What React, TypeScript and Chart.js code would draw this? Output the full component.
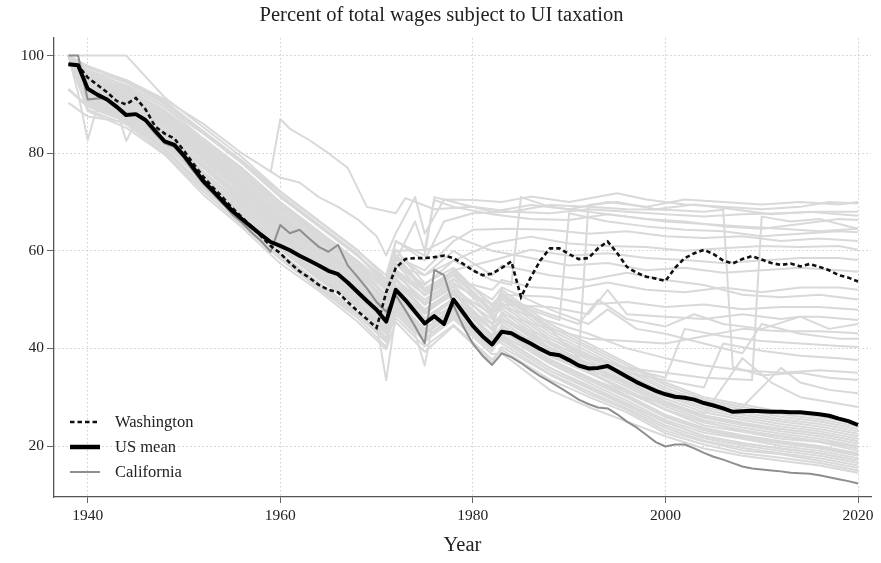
import React, { useEffect, useRef } from 'react';
import { Chart, registerables } from 'chart.js';

Chart.register(...registerables);

// ---------- highlighted series (yearly) ----------
const years = [
  1938, 1939, 1940, 1941, 1942, 1943, 1944, 1945, 1946, 1947, 1948, 1949, 1950, 1951, 1952, 1953, 1954, 1955, 1956, 1957,
  1958, 1959, 1960, 1961, 1962, 1963, 1964, 1965, 1966, 1967, 1968, 1969, 1970, 1971, 1972, 1973, 1974, 1975, 1976, 1977,
  1978, 1979, 1980, 1981, 1982, 1983, 1984, 1985, 1986, 1987, 1988, 1989, 1990, 1991, 1992, 1993, 1994, 1995, 1996, 1997,
  1998, 1999, 2000, 2001, 2002, 2003, 2004, 2005, 2006, 2007, 2008, 2009, 2010, 2011, 2012, 2013, 2014, 2015, 2016, 2017,
  2018, 2019, 2020,
];

const usMean = [
  98.2, 98.0, 93.2, 92.0, 91.0, 89.5, 87.8, 88.0, 86.8, 84.6, 82.4, 81.7, 79.5, 76.9, 74.3, 72.3, 70.2, 68.2, 66.5, 64.9,
  63.3, 61.8, 61.0, 60.1, 59.0, 58.0, 57.0, 55.9, 55.2, 53.5, 51.6, 49.7, 47.9, 45.5, 52.0, 49.9, 47.5, 45.1, 46.6, 45.0,
  50.0, 47.3, 44.6, 42.5, 40.8, 43.4, 43.1, 42.0, 41.0, 39.9, 38.9, 38.6, 37.6, 36.5, 35.9, 36.0, 36.4, 35.3, 34.2, 33.1,
  32.2, 31.3, 30.6, 30.1, 29.9, 29.5, 28.8, 28.3, 27.7, 27.0, 27.1, 27.2, 27.1, 27.0, 27.0, 26.9, 26.9, 26.7, 26.5, 26.2,
  25.6, 25.1, 24.3,
];

const washington = [
  98.2, 98.0, 95.5, 94.0, 92.5, 90.7, 90.0, 91.3, 89.0, 85.5, 84.0, 83.0, 80.5, 77.8, 75.2, 73.0, 71.0, 68.8, 66.9, 65.0,
  63.0, 61.0, 59.5, 57.5, 55.8, 54.5, 53.0, 52.0, 51.5, 49.5, 47.7, 46.0, 44.2, 51.5, 56.5, 58.3, 58.5, 58.5, 58.7, 59.0,
  58.5, 57.3, 56.0, 55.0, 55.3, 56.5, 57.8, 50.5, 54.5, 58.0, 60.5, 60.5, 59.3, 58.3, 58.5, 60.5, 61.9, 59.5, 56.7, 55.5,
  54.7, 54.3, 53.8, 56.5, 58.5, 59.5, 60.2, 59.3, 58.0, 57.4, 58.3, 58.9, 58.2, 57.5, 57.1, 57.4, 56.8, 57.3, 56.7, 56.0,
  55.0, 54.5, 53.7,
];

const california = [
  100, 100, 91.0, 91.2, 91.3, 89.8, 87.9, 87.9, 86.5, 84.0, 82.0, 81.3, 79.0, 76.2, 73.8, 71.8, 69.7, 67.5, 65.8, 63.8,
  62.0, 59.8, 65.3, 63.6, 64.3, 62.5, 60.8, 59.8, 61.2, 57.0, 54.7, 52.3, 49.5, 47.5, 50.9, 47.8, 44.5, 41.0, 56.1, 55.0,
  48.8, 44.5, 41.0, 38.5, 36.6, 39.0, 38.2, 37.0, 35.6, 34.3, 33.2, 32.0, 30.8, 29.5, 28.6, 27.9, 27.7, 26.5, 25.0, 23.8,
  22.3, 20.8, 19.9, 20.3, 20.3, 19.5, 18.6, 17.8, 17.2, 16.5, 15.8, 15.4, 15.2, 15.0, 14.8, 14.5, 14.4, 14.3, 14.0, 13.6,
  13.2, 12.8, 12.3,
];

// ---------- other states (grey), read at selected years ----------
const bandYears = [1938, 1940, 1944, 1948, 1952, 1956, 1960, 1964, 1968, 1971, 1972, 1975, 1978, 1982, 1983, 1988, 1992, 1996, 2000, 2004, 2008, 2012, 2016, 2020];

const stateA = [100, 88.6, 85.2, 79.7, 71.5, 64.8, 57.4, 51.8, 45.5, 39.8, 45.4, 39.3, 44.6, 37.1, 40.3, 34.6, 30.7, 27.4, 23.1, 20.9, 19.1, 18.3, 17.0, 15.5];
const stateB = [90.3, 87.5, 86.3, 80.6, 72.8, 65.9, 58.9, 52.5, 46.9, 41.3, 49.0, 42.8, 47.2, 39.9, 44.9, 38.4, 35.2, 31.0, 27.4, 24.2, 22.9, 21.5, 20.8, 19.0];
const stateC = [100, 90.2, 87.2, 81.6, 74.3, 67.2, 60.2, 54.2, 48.6, 42.2, 46.2, 40.4, 44.8, 37.7, 39.7, 33.6, 30.1, 26.9, 22.6, 20.3, 18.5, 17.6, 16.5, 15.0];
const stateD = [100, 91.1, 88.1, 82.6, 75.2, 68.0, 61.5, 55.5, 49.5, 43.5, 49.2, 42.9, 47.4, 40.1, 42.9, 36.9, 33.0, 29.3, 25.3, 22.7, 21.5, 20.0, 19.0, 17.5];
const stateE = [100, 91.9, 88.9, 83.6, 76.3, 69.6, 62.6, 56.6, 50.6, 44.6, 52.6, 46.2, 50.2, 42.7, 46.8, 40.2, 36.4, 32.6, 28.6, 25.8, 24.3, 23.0, 22.0, 20.5];
const stateF = [100, 92.6, 89.6, 84.5, 77.3, 70.7, 63.7, 57.7, 51.7, 45.7, 49.6, 43.3, 47.7, 40.3, 41.6, 35.4, 31.8, 28.2, 24.2, 21.6, 20.1, 19.0, 18.0, 16.5];
const stateG = [100, 93.5, 90.5, 85.5, 78.5, 72.0, 65.0, 59.0, 53.0, 47.0, 55.7, 49.0, 52.8, 45.1, 49.4, 42.6, 38.7, 34.8, 30.8, 27.9, 26.4, 25.0, 24.0, 22.5];
const stateH = [100, 94.4, 91.4, 86.5, 79.7, 73.3, 66.3, 60.3, 54.3, 48.3, 52.6, 46.2, 50.2, 42.7, 43.9, 37.6, 33.9, 30.2, 26.2, 23.5, 22.0, 20.8, 19.8, 18.3];
const stateI = [100, 95.2, 92.2, 87.5, 80.8, 74.4, 67.4, 61.4, 55.4, 49.4, 58.4, 51.6, 55.0, 47.2, 51.4, 44.4, 40.4, 36.5, 32.5, 29.5, 28.0, 26.5, 25.5, 24.0];
const stateJ = [100, 95.9, 92.9, 88.4, 81.8, 75.5, 68.5, 62.5, 56.5, 50.5, 55.5, 48.9, 52.6, 45.0, 46.2, 39.6, 35.8, 32.1, 28.1, 25.3, 23.8, 22.5, 21.5, 20.0];
const stateK = [100, 96.8, 93.8, 89.4, 83.0, 76.8, 69.8, 63.8, 57.8, 51.8, 57.5, 50.8, 54.3, 46.5, 48.1, 41.4, 37.6, 33.7, 29.7, 26.9, 25.4, 24.0, 23.0, 21.5];
const stateL = [100, 97.7, 94.7, 90.4, 84.2, 78.1, 71.1, 65.1, 59.1, 53.1, 54.1, 47.5, 51.4, 43.8, 42.3, 36.0, 32.4, 28.8, 24.8, 22.1, 20.6, 19.5, 18.5, 17.0];
const stateM = [100, 100, 100, 91.4, 85.3, 79.2, 72.2, 66.2, 60.2, 54.2, 60.2, 53.3, 56.5, 48.6, 50.1, 43.2, 39.3, 35.4, 31.4, 28.4, 26.9, 25.5, 24.5, 23.0];
const stateN = [93.2, 89.7, 86.7, 81.0, 73.3, 66.4, 59.4, 53.4, 47.4, 41.4, 51.2, 44.8, 49.0, 41.6, 47.5, 40.8, 37.0, 33.2, 29.2, 26.3, 24.8, 23.5, 22.5, 21.0];
const stateO = [100, 92.4, 89.4, 84.2, 77.0, 70.4, 63.4, 57.4, 51.4, 45.4, 47.6, 41.4, 46.0, 38.8, 39.0, 31.5, 28.0, 25.0, 22.0, 19.5, 18.0, 17.0, 16.0, 14.5];
const stateP = [100, 94.6, 91.6, 86.8, 80.0, 73.6, 66.6, 60.6, 54.6, 48.6, 53.9, 47.4, 51.3, 43.7, 45.5, 39.0, 35.3, 31.5, 27.5, 24.8, 23.3, 22.0, 21.0, 19.5];
const stateQ = [100, 96.3, 93.3, 88.8, 82.3, 76.0, 69.0, 63.0, 57.0, 51.0, 52.1, 45.7, 49.8, 42.3, 41.0, 34.8, 31.2, 27.7, 23.7, 21.1, 19.6, 18.5, 17.5, 16.0];
const stateR = [100, 97.9, 94.9, 90.7, 84.5, 78.4, 71.4, 65.4, 59.4, 53.4, 58.9, 52.1, 55.5, 47.6, 48.8, 42.0, 38.1, 34.3, 30.3, 27.4, 25.9, 24.5, 23.5, 22.0];
const stateS = [100, 90.8, 87.8, 82.3, 74.8, 68.0, 61.0, 55.0, 49.0, 43.0, 54.4, 47.9, 51.7, 44.1, 50.7, 43.8, 39.9, 35.9, 31.9, 29.0, 27.5, 26.0, 25.0, 23.5];
const stateT = [100, 94.1, 91.1, 86.2, 79.3, 72.8, 65.8, 59.8, 53.8, 47.8, 52.1, 45.7, 49.8, 42.3, 43.6, 37.2, 33.5, 29.9, 25.9, 23.2, 21.7, 20.5, 19.5, 18.0];
const stateU = [100, 88.9, 85.9, 80.0, 72.2, 65.3, 58.3, 52.3, 46.3, 40.3, 48.3, 42.1, 46.6, 39.4, 44.2, 37.8, 34.1, 30.4, 26.4, 23.7, 22.2, 21.0, 20.0, 18.5];
const stateV = [100, 95.5, 92.5, 87.8, 81.2, 74.9, 67.9, 61.9, 55.9, 49.9, 59.1, 52.3, 55.6, 47.8, 52.0, 45.0, 41.0, 37.0, 33.0, 30.0, 28.5, 27.0, 26.0, 24.5];

// states read as [year, value] pairs (irregular paths)
const stateU1 = [[1938, 100], [1940, 97.5], [1944, 95], [1948, 91], [1952, 86], [1956, 80], [1960, 75], [1962, 74], [1964, 71], [1966, 69], [1968, 66.5], [1970, 63], [1971, 59], [1972, 63.6], [1974, 71], [1975, 63.5], [1977, 70.5], [1980, 70.4], [1983, 70], [1986, 71.1], [1990, 70], [1995, 71.8], [1998, 70.5], [2002, 69.5], [2006, 69], [2010, 68.5], [2014, 69], [2017, 70], [2020, 69.7]];
const stateU2 = [[1959, 76], [1960, 87], [1961, 85], [1963, 82.7], [1965, 80], [1967, 77], [1969, 69], [1972, 67.7], [1973, 70.8], [1976, 68.5], [1980, 69], [1984, 68], [1988, 67.7], [1992, 68.5], [1996, 68], [2000, 67.5], [2004, 67], [2008, 67.5], [2012, 67.7], [2016, 68], [2020, 68]];
const stateU3 = [[1938, 100], [1940, 96.5], [1944, 94], [1948, 89.5], [1952, 84], [1956, 78], [1960, 71], [1964, 65], [1968, 59], [1971, 54], [1972, 60], [1975, 60.2], [1976, 70.4], [1978, 69], [1982, 67.5], [1986, 66.5], [1990, 66.3], [1994, 67.5], [1998, 66.5], [2002, 66], [2006, 65], [2010, 64.5], [2014, 65.5], [2018, 66.5], [2020, 66.3]];
const stateU4 = [[1938, 100], [1940, 95.5], [1944, 93], [1948, 88], [1952, 82], [1956, 76], [1960, 69], [1964, 63], [1968, 57], [1971, 52], [1972, 58.8], [1975, 56], [1978, 62], [1980, 64.3], [1984, 64.5], [1988, 64.3], [1992, 63.5], [1996, 64], [2000, 63], [2004, 62.6], [2008, 63], [2012, 62], [2016, 62.5], [2020, 62]];
const stateU5 = [[1938, 100], [1940, 94.5], [1944, 92], [1948, 87], [1952, 81], [1956, 74], [1960, 67], [1964, 61], [1968, 55], [1971, 50], [1972, 57], [1975, 53], [1978, 58], [1982, 61.5], [1986, 62.9], [1990, 61.5], [1994, 61], [1998, 60.8], [2002, 60], [2006, 60.5], [2010, 61], [2014, 60.8], [2018, 61], [2020, 60.2]];
const stateU6 = [[1938, 100], [1940, 93.5], [1944, 91], [1948, 86], [1952, 80], [1956, 73], [1960, 66], [1964, 60], [1968, 54], [1971, 49], [1972, 56], [1975, 51], [1978, 56], [1982, 58], [1986, 60.2], [1990, 59], [1994, 59.5], [1998, 58.5], [2002, 58.1], [2006, 57.5], [2010, 58], [2014, 58.5], [2018, 58.5], [2020, 58.1]];
const stateU7 = [[1938, 100], [1940, 95], [1944, 92.5], [1948, 87], [1952, 80.5], [1956, 74], [1960, 67], [1964, 61], [1968, 55], [1971, 50], [1972, 56], [1975, 52], [1978, 56], [1982, 49], [1983, 51], [1988, 44], [1991, 38], [1992, 69.4], [1995, 70], [1999, 68.5], [2003, 69.5], [2007, 68.5], [2011, 67.5], [2015, 68], [2018, 67.5], [2020, 67.2]];
const stateU8 = [[1938, 100], [1940, 96], [1944, 93.5], [1948, 88.5], [1952, 83], [1956, 77], [1960, 70], [1964, 64], [1968, 58], [1971, 53], [1972, 62], [1975, 58], [1977, 66], [1980, 67.7], [1984, 68], [1988, 69.4], [1992, 69], [1996, 68.5], [2000, 68.4], [2004, 68], [2006, 68.4], [2007, 36.2], [2010, 34.5], [2014, 35], [2017, 34], [2020, 33.5]];
const stateU9 = [[1938, 100], [1940, 92], [1944, 89], [1948, 84], [1952, 77], [1956, 70], [1960, 63], [1964, 57], [1968, 51], [1971, 45], [1972, 51], [1975, 46], [1978, 50], [1982, 44], [1983, 46], [1988, 41], [1992, 38], [1996, 36], [2000, 35], [2004, 34], [2009, 33.5], [2010, 67], [2013, 66], [2016, 66.5], [2020, 64.5]];
const stateU10 = [[1938, 100], [1940, 93], [1944, 90], [1948, 85], [1952, 78], [1956, 71.5], [1960, 64.5], [1964, 58.5], [1968, 52.5], [1971, 47], [1972, 53], [1975, 48], [1978, 52], [1982, 47], [1983, 50], [1989, 45.8], [1990, 67.7], [1994, 66], [1998, 65], [2002, 64.3], [2006, 64], [2010, 63], [2014, 63.5], [2018, 64], [2020, 63.8]];
const stateM1 = [[1938, 100], [1940, 94], [1944, 91.5], [1948, 86.5], [1952, 80], [1956, 73.5], [1960, 66.5], [1964, 60.5], [1968, 54.5], [1971, 49], [1972, 55], [1975, 50], [1978, 54], [1982, 52], [1983, 54], [1986, 52.6], [1990, 52], [1994, 53.5], [1998, 52], [2002, 51.5], [2006, 52.5], [2010, 51.5], [2014, 52.5], [2018, 52.5], [2020, 52]];
const stateM2 = [[1938, 100], [1940, 93], [1944, 90.5], [1948, 85.5], [1952, 79], [1956, 72.5], [1960, 65.5], [1964, 59.5], [1968, 53.5], [1971, 48], [1972, 54], [1975, 49], [1978, 53], [1982, 49], [1983, 51], [1988, 50.6], [1992, 49], [1996, 49.5], [2000, 48.5], [2004, 49], [2008, 48], [2012, 48.5], [2016, 48.5], [2020, 47.9]];
const stateM3 = [[1938, 100], [1940, 92.5], [1944, 89.5], [1948, 84.5], [1952, 77.5], [1956, 71], [1960, 64], [1964, 58], [1968, 52], [1971, 46.5], [1972, 53], [1975, 48], [1978, 52], [1982, 47], [1983, 49], [1988, 48.5], [1992, 47], [1994, 52], [1996, 47], [2000, 46.5], [2004, 46], [2008, 47], [2012, 46], [2014, 46.5], [2016, 46.5], [2020, 45.8]];
const stateM4 = [[1938, 100], [1940, 91.5], [1944, 88.5], [1948, 83], [1952, 76], [1956, 69.5], [1960, 62.5], [1964, 56.5], [1968, 50.5], [1971, 45], [1972, 51.5], [1975, 46], [1978, 50], [1982, 45], [1983, 47], [1988, 44], [1992, 42], [1996, 41.5], [2000, 41], [2004, 42.5], [2008, 44], [2012, 43.5], [2016, 43.5], [2020, 43.1]];
const stateM5 = [[1938, 100], [1940, 91], [1944, 88], [1948, 82.5], [1952, 75.5], [1956, 68.5], [1960, 61.5], [1964, 55.5], [1968, 49.5], [1971, 44], [1972, 50.5], [1975, 45], [1978, 49], [1982, 44], [1983, 46], [1988, 42], [1992, 38.5], [1996, 36], [2000, 34], [2002, 44], [2006, 42.5], [2010, 41.5], [2014, 41], [2018, 40.5], [2020, 40.3]];
const stateM6 = [[1938, 100], [1940, 90.5], [1944, 87.5], [1948, 82], [1952, 74.5], [1956, 67.5], [1960, 60.5], [1964, 54.5], [1968, 48.5], [1971, 43], [1972, 49.5], [1975, 44], [1978, 48], [1982, 42], [1983, 44.5], [1988, 40], [1992, 37], [1996, 35], [2000, 33.5], [2004, 32], [2006, 41], [2010, 39.5], [2014, 38.5], [2018, 38], [2020, 37.6]];
const stateM7 = [[1938, 100], [1940, 90], [1944, 87], [1948, 81], [1952, 73.5], [1956, 66.5], [1960, 59.5], [1964, 53.5], [1968, 47.5], [1971, 42], [1972, 48.5], [1975, 43], [1978, 47], [1982, 41], [1983, 43.5], [1988, 39], [1992, 35.5], [1996, 33], [2000, 31], [2004, 29.5], [2008, 28], [2012, 36], [2014, 33], [2017, 31.5], [2020, 30.8]];
const stateM8 = [[1938, 93], [1940, 89.5], [1944, 86.5], [1948, 80.5], [1952, 73], [1956, 66], [1960, 59], [1964, 53], [1968, 47], [1971, 41.5], [1972, 48], [1975, 42], [1978, 46.5], [1982, 40.5], [1983, 42.5], [1988, 37.5], [1992, 34], [1996, 31], [2000, 28.5], [2004, 26.5], [2008, 38], [2011, 33], [2014, 30], [2017, 29], [2020, 28]];
const stateM9 = [[1938, 100], [1940, 95], [1944, 92], [1948, 87], [1952, 80.5], [1956, 74], [1960, 67], [1964, 61], [1968, 55], [1971, 50], [1972, 57], [1975, 55], [1978, 58], [1982, 54], [1984, 53], [1985, 71], [1988, 69], [1992, 68], [1996, 67], [2000, 66], [2004, 65.5], [2008, 65], [2012, 64.5], [2016, 64], [2020, 64.5]];
const stateD1 = [[1938, 100], [1940, 91], [1944, 88], [1948, 82], [1952, 75], [1956, 68], [1960, 61], [1964, 55], [1968, 49], [1970, 45], [1971, 33.5], [1972, 47], [1974, 43], [1975, 36.5], [1976, 47], [1978, 48], [1982, 40], [1983, 42], [1988, 36], [1992, 32], [1996, 28.5], [2000, 25], [2004, 22], [2008, 20.5], [2012, 19.5], [2016, 18.5], [2020, 17]];
const stateD2 = [[1938, 100], [1939, 92.3], [1940, 82.7], [1941, 89.5], [1944, 88], [1948, 83], [1952, 76], [1956, 69], [1960, 62], [1964, 56], [1968, 50], [1971, 44], [1972, 50], [1975, 44], [1978, 48.5], [1982, 41], [1983, 44], [1988, 38.5], [1992, 35], [1996, 31.5], [2000, 27.5], [2004, 25], [2008, 23], [2012, 22], [2016, 21], [2020, 20]];
const stateD3 = [[1938, 100], [1940, 93], [1943, 89], [1944, 82.5], [1945, 86.5], [1948, 84], [1952, 77.5], [1956, 71], [1960, 64], [1964, 58], [1968, 52], [1971, 46.5], [1972, 52], [1975, 47.5], [1978, 51], [1982, 44], [1983, 46], [1988, 40], [1992, 36.5], [1996, 33], [2000, 29], [2004, 26], [2008, 24.5], [2012, 23.5], [2016, 22.5], [2020, 21]];
const stateE1 = [[1938, 100], [1940, 96], [1944, 93], [1948, 88], [1952, 82.5], [1956, 76.5], [1960, 69.5], [1964, 63.5], [1968, 57.5], [1971, 52.5], [1972, 59], [1975, 55], [1978, 60], [1982, 55], [1983, 57], [1988, 55], [1992, 54], [1996, 55.5], [2000, 54], [2004, 53], [2008, 51], [2012, 50.5], [2016, 51], [2020, 50]];
const stateE2 = [[1938, 100], [1940, 94], [1944, 91], [1948, 86], [1952, 79.5], [1956, 73], [1960, 66], [1964, 60], [1968, 54], [1971, 48.5], [1972, 55.5], [1975, 51], [1978, 55], [1982, 50], [1983, 52.5], [1988, 48], [1992, 45], [1994, 48], [1997, 44], [2000, 43], [2004, 41], [2008, 39], [2010, 45], [2014, 43], [2018, 42], [2020, 42]];
const stateE3 = [[1938, 100], [1940, 97], [1944, 94.5], [1948, 90], [1952, 84.5], [1956, 78.5], [1960, 72], [1964, 66], [1968, 60], [1971, 55], [1972, 62], [1975, 59], [1976, 71], [1979, 69.5], [1982, 68], [1986, 69.4], [1990, 68.5], [1994, 70], [1998, 69], [2002, 70.5], [2006, 70], [2010, 69.5], [2014, 70], [2018, 69.5], [2020, 70]];
const stateE4 = [[1938, 100], [1940, 92], [1944, 89], [1948, 84], [1952, 77], [1956, 70.5], [1960, 63.5], [1964, 57.5], [1968, 51.5], [1971, 46], [1972, 52.5], [1975, 47], [1978, 51.5], [1982, 46], [1983, 48.5], [1988, 45.5], [1992, 43], [1996, 40], [2000, 38], [2004, 36.5], [2008, 35.5], [2012, 35], [2016, 35.5], [2020, 35]];
const stateE5 = [[1938, 100], [1940, 95.5], [1944, 92], [1948, 87.5], [1952, 81.5], [1956, 75], [1960, 68], [1964, 62], [1968, 56], [1971, 51], [1972, 58], [1974, 66], [1975, 60], [1978, 63], [1982, 60], [1986, 58.5], [1990, 57], [1994, 57.5], [1998, 56], [2002, 56.5], [2006, 55.5], [2010, 56], [2014, 56.5], [2018, 56], [2020, 55.7]];
const stateE6 = [[1938, 100], [1940, 93.5], [1944, 90.5], [1948, 85.5], [1952, 79], [1956, 72], [1960, 65], [1964, 59], [1968, 53], [1971, 47.5], [1972, 54], [1975, 49.5], [1978, 53.5], [1982, 48], [1983, 50.5], [1988, 47], [1991, 45], [1993, 50], [1996, 46], [2000, 44.5], [2003, 47], [2006, 45], [2010, 44], [2014, 46.5], [2017, 44], [2020, 45]];

const bandStates = [stateA, stateB, stateC, stateD, stateE, stateF, stateG, stateH, stateI, stateJ, stateK, stateL, stateM, stateN, stateO, stateP, stateQ, stateR, stateS, stateT, stateU, stateV];
const pathStates = [
  stateU1, stateU2, stateU3, stateU4, stateU5, stateU6, stateU7, stateU8, stateU9, stateU10,
  stateM1, stateM2, stateM3, stateM4, stateM5, stateM6, stateM7, stateM8, stateM9,
  stateD1, stateD2, stateD3, stateE1, stateE2, stateE3, stateE4, stateE5, stateE6,
];

const xTicks = [1940, 1960, 1980, 2000, 2020];
const yTicks = [20, 40, 60, 80, 100];

const chartTitle = 'Percent of total wages subject to UI taxation';
const xTitle = 'Year';
const legendLabels = ['Washington', 'US mean', 'California'];

// ---------- styles ----------
const SERIF = '"Liberation Serif", "Times New Roman", serif';
const GREY = '#d9d9d9';
const CA_GREY = '#8e8e8e';
const TEXT = '#222';

export default function App() {
  const ref = useRef<HTMLCanvasElement | null>(null);

  useEffect(() => {
    document.body.style.margin = '0';
    const canvas = ref.current;
    if (!canvas) return;

    const greyStyle = {
      borderColor: GREY,
      borderWidth: 2,
      pointRadius: 0,
      borderJoinStyle: 'round' as const,
      fill: false,
      order: 5,
    };

    const datasets: any[] = [
      {
        label: 'US mean',
        data: years.map((x, i) => ({ x, y: usMean[i] })),
        borderColor: '#000',
        borderWidth: 4,
        pointRadius: 0,
        borderJoinStyle: 'round',
        order: 0,
      },
      {
        label: 'Washington',
        data: years.map((x, i) => ({ x, y: washington[i] })),
        borderColor: '#111',
        borderWidth: 2.6,
        borderDash: [4.5, 3],
        pointRadius: 0,
        order: 1,
      },
      {
        label: 'California',
        data: years.map((x, i) => ({ x, y: california[i] })),
        borderColor: CA_GREY,
        borderWidth: 2,
        pointRadius: 0,
        borderJoinStyle: 'round',
        order: 2,
      },
      ...bandStates.map((vals) => ({
        ...greyStyle,
        data: bandYears.map((x, i) => ({ x, y: vals[i] })),
      })),
      ...pathStates.map((pts) => ({
        ...greyStyle,
        data: pts.map(([x, y]) => ({ x, y })),
      })),
    ];

    const titlePlugin = {
      id: 'topTitle',
      afterDraw(chart: any) {
        const { ctx } = chart;
        ctx.save();
        ctx.font = `20.5px ${SERIF}`;
        ctx.fillStyle = TEXT;
        ctx.textAlign = 'center';
        ctx.textBaseline = 'middle';
        ctx.fillText(chartTitle, chart.width / 2 + 1, 16);
        ctx.restore();
      },
    };

    const legendPlugin = {
      id: 'insetLegend',
      afterDraw(chart: any) {
        const { ctx, chartArea } = chart;
        const x0 = chartArea.left + 16;
        const x1 = x0 + 30;
        const tx = x0 + 45;
        const rows = [chartArea.bottom - 75, chartArea.bottom - 50, chartArea.bottom - 25];
        ctx.save();
        ctx.strokeStyle = '#111';
        ctx.lineWidth = 2.6;
        ctx.setLineDash([4.5, 3]);
        ctx.beginPath();
        ctx.moveTo(x0, rows[0]);
        ctx.lineTo(x1, rows[0]);
        ctx.stroke();
        ctx.setLineDash([]);
        ctx.strokeStyle = '#000';
        ctx.lineWidth = 4.5;
        ctx.beginPath();
        ctx.moveTo(x0, rows[1]);
        ctx.lineTo(x1, rows[1]);
        ctx.stroke();
        ctx.strokeStyle = CA_GREY;
        ctx.lineWidth = 2;
        ctx.beginPath();
        ctx.moveTo(x0, rows[2]);
        ctx.lineTo(x1, rows[2]);
        ctx.stroke();
        ctx.font = `16.5px ${SERIF}`;
        ctx.fillStyle = TEXT;
        ctx.textAlign = 'left';
        ctx.textBaseline = 'middle';
        legendLabels.forEach((t, i) => ctx.fillText(t, tx, rows[i] + 1));
        ctx.restore();
      },
    };

    const chart = new Chart(canvas, {
      type: 'line',
      data: { datasets },
      plugins: [titlePlugin, legendPlugin],
      options: {
        animation: false,
        responsive: false,
        maintainAspectRatio: false,
        events: [],
        layout: { padding: { top: 38, right: 10, bottom: 0, left: 0 } },
        elements: { line: { tension: 0 } },
        plugins: {
          legend: { display: false },
          title: { display: false },
          tooltip: { enabled: false },
        },
        scales: {
          x: {
            type: 'linear',
            min: 1936.5,
            max: 2021.35,
            afterBuildTicks: (s: any) => {
              s.ticks = xTicks.map((v) => ({ value: v }));
            },
            afterFit: (s: any) => {
              s.height = 66;
            },
            grid: {
              color: '#cccccc',
              lineWidth: 1,
              drawTicks: true,
              tickLength: 6,
              tickColor: '#666',
              tickWidth: 1,
            },
            border: { display: true, color: '#555', width: 1.3, dash: [1.5, 2.5] },
            ticks: {
              color: TEXT,
              font: { family: SERIF, size: 15.5 },
              padding: 4,
              maxRotation: 0,
              autoSkip: false,
              callback: (v: any) => String(v),
            },
            title: {
              display: true,
              text: xTitle,
              color: TEXT,
              font: { family: SERIF, size: 20.5 },
              padding: { top: 0, bottom: 5 },
            },
          },
          y: {
            type: 'linear',
            min: 9.55,
            max: 103.6,
            afterBuildTicks: (s: any) => {
              s.ticks = yTicks.map((v) => ({ value: v }));
            },
            afterFit: (s: any) => {
              s.width = 54;
            },
            grid: {
              color: '#cccccc',
              lineWidth: 1,
              drawTicks: true,
              tickLength: 7,
              tickColor: '#666',
              tickWidth: 1,
            },
            border: { display: true, color: '#555', width: 1.3, dash: [1.5, 2.5] },
            ticks: {
              color: TEXT,
              font: { family: SERIF, size: 15.5 },
              padding: 3,
              autoSkip: false,
              callback: (v: any) => String(v),
            },
          },
        },
      },
    });

    return () => chart.destroy();
  }, []);

  return (
    <div style={{ width: 881, height: 563, background: '#fff' }}>
      <canvas ref={ref} width={881} height={563} style={{ display: 'block' }} />
    </div>
  );
}
